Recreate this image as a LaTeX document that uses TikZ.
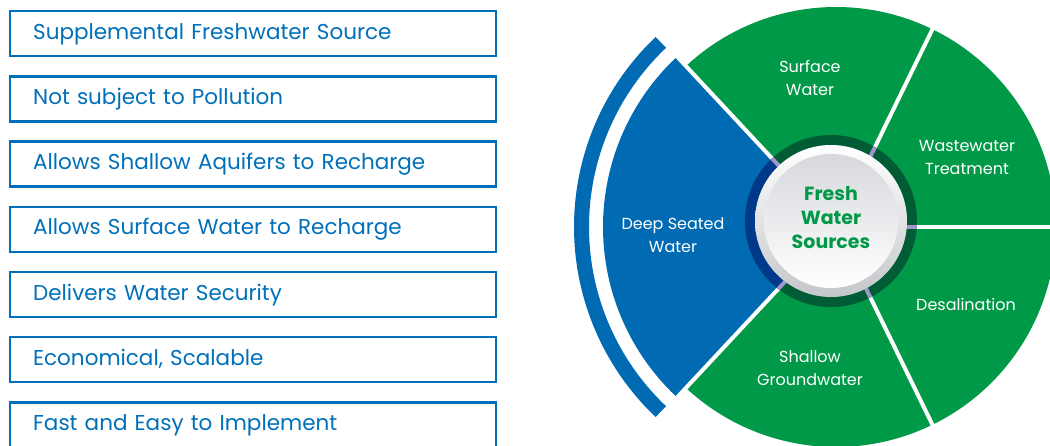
\documentclass[tikz,border=0pt]{standalone}
\usepackage{fontspec}
\setmainfont{Poppins}
\usetikzlibrary{positioning}
\definecolor{factblue}{RGB}{0,112,186}
\definecolor{deepblue}{RGB}{0,106,179}
\definecolor{sourcegreen}{RGB}{0,153,72}
\definecolor{ringgreen}{RGB}{0,92,52}
\definecolor{ringnavy}{RGB}{0,56,138}
\definecolor{ringlilac}{RGB}{158,150,204}
\definecolor{discgrey}{RGB}{214,216,220}
\tikzset{
    factbox/.style={draw=factblue, line width=2.3pt, minimum width=486pt,
        minimum height=45pt, text width=439pt, inner xsep=23.5pt,
        text height=16pt, text depth=4.8pt, align=left, anchor=west,
        text=factblue, font=\fontsize{21.5}{26}\selectfont},
    sectorlabel/.style={text=white, align=center, font=\fontsize{16}{23}\selectfont},
    sectorgap/.style={draw=white, line width=4pt},
}
\begin{document}
\begin{tikzpicture}[x=1pt, y=1pt]
    \useasboundingbox (0,0) rectangle (1050,445);
    \clip (0,0) rectangle (1050,445);
    % benefits
    \foreach \fact [count=\i from 0] in {Supplemental Freshwater Source, Not subject to Pollution, Allows Shallow Aquifers to Recharge, Allows Surface Water to Recharge, Delivers Water Security, {Economical, Scalable}, Fast and Easy to Implement}
        \node[factbox] (fact\i) at (8.5, 411.3-65.2*\i) {\fact};
    % sources wheel
    \coordinate (P) at (836,218);
    \coordinate (C) at (831,224);
    \foreach \a/\b in {64/133, 0/64, -64/0, -133/-64}
        \fill[sourcegreen] (P) -- ++(\a:220) arc (\a:\b:220) -- cycle;
    \fill[deepblue] (P) -- ++(133:233) arc (133:227:233) -- cycle;
    \foreach \a in {133,64,0,-64,-133}
        \draw[sectorgap] (P) -- ++(\a:245);
    \draw[deepblue, line width=15pt] (P) ++(133.5:254.5) arc (133.5:226.5:254.5);
    % ring
    \draw[ringgreen, line width=10pt] (C) circle (81);
    \begin{scope}
        \clip (P) -- ++(133:300) arc (133:227:300) -- cycle;
        \draw[ringnavy, line width=10pt] (C) circle (81);
    \end{scope}
    \begin{scope}[even odd rule]
        \clip (C) circle (86) (C) circle (76);
        \foreach \a in {133,64,0,-64,-133}
            \draw[ringlilac, line width=4pt] (P) -- ++(\a:120);
    \end{scope}
    \shade[top color=white, bottom color=discgrey!80!gray] (C) circle (76);
    \shade[top color=discgrey, bottom color=white] (C) circle (67);
    % labels
    \node[sectorlabel] (surface) at (810,367.5) {Surface\\Water};
    \node[sectorlabel] (wastewater) at (967,288) {Wastewater\\Treatment};
    \node[sectorlabel] (desalination) at (966,141) {Desalination};
    \node[sectorlabel] (shallow) at (810,76.5) {Shallow\\Groundwater};
    \node[sectorlabel] (deep) at (673,209.5) {Deep Seated\\Water};
    \node[text=sourcegreen, align=center, font=\bfseries\fontsize{19}{24}\selectfont] (hub) at (831,227) {Fresh\\Water\\Sources};
\end{tikzpicture}
\end{document}
